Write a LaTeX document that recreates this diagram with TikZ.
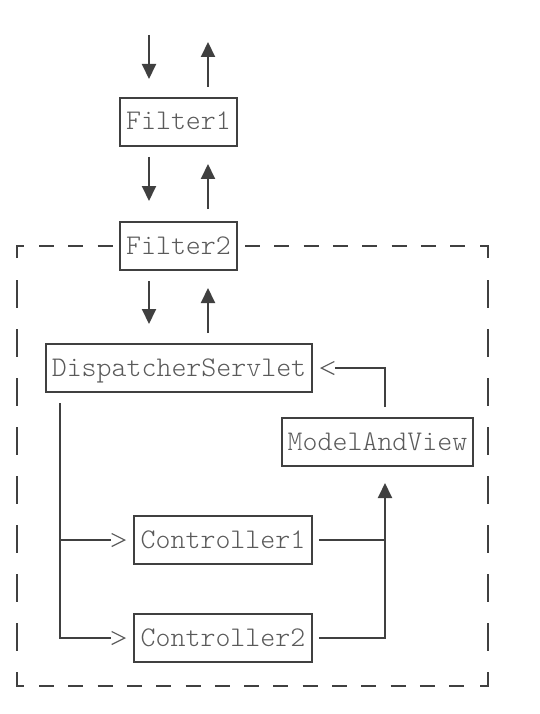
\documentclass[tikz,border=0pt]{standalone}
\usepackage{fontspec}
\setmonofont{Latin Modern Mono Light}
\usetikzlibrary{calc}
\usetikzlibrary{positioning}
\usetikzlibrary{arrows.meta}
\definecolor{linegray}{HTML}{404040}
\definecolor{textgray}{HTML}{5A5A5A}
\tikzstyle{boxnode} = [draw=linegray, line width=2pt, rectangle, minimum height=48pt, inner xsep=2pt, text height=20pt, text depth=4pt, text=textgray, font=\ttfamily\fontsize{28.5}{28.5}\selectfont]
\tikzstyle{link} = [draw=linegray, line width=2pt]
\tikzstyle{fillarrow} = [link, -{Triangle[width=14pt,length=15pt]}]
\tikzstyle{openarrow} = [link, -{. Straight Barb[length=13pt,width=13pt,line width=1.2pt,color=textgray]}]
\tikzstyle{hdash} = [link, dash pattern=on 15pt off 14.3pt]
\tikzstyle{vdash} = [link, dash pattern=on 28pt off 21pt]

\begin{document}
\begin{tikzpicture}[x=1pt, y=-1pt]
  \useasboundingbox (0,0) rectangle (539,714);
  \node[boxnode, minimum width=117pt] (f1) at (178.5,122) {Filter1};
  \node[boxnode, minimum width=117pt, below=74pt of f1] (f2) {Filter2};
  \node[boxnode, minimum width=266pt] (ds) at (179,368) {DispatcherServlet};
  \node[boxnode, minimum width=191pt] (mv) at (377.5,442) {ModelAndView};
  \node[boxnode, minimum width=178pt] (c1) at (223,540) {Controller1};
  \node[boxnode, minimum width=178pt, below=48pt of c1] (c2) {Controller2};

  \coordinate (req) at (149,35);
  \coordinate (resp) at (208,42);
  \coordinate (mvin) at ([xshift=7.5pt]mv.south);
  \coordinate (mvout) at ([xshift=7.5pt]mv.north);
  \coordinate (dsout) at ([xshift=15pt]ds.south west);

  % frame round the container
  \draw[link] (17,258) -- (17,246) -- (24,246);
  \draw[link] (480,246) -- (488,246) -- (488,258);
  \draw[link] (17,672) -- (17,686) -- (24,686);
  \draw[link] (480,686) -- (488,686) -- (488,672);
  \draw[hdash] (39,246) -- (f2.west);
  \draw[hdash] (245,246) -- (466,246);
  \draw[hdash] (39,686) -- (466,686);
  \draw[vdash] (17,280) -- (17,652);
  \draw[vdash] (488,280) -- (488,652);

  \draw[fillarrow, shorten >=18pt] (req) -- (req |- f1.north);
  \draw[fillarrow, shorten <=10pt] (resp |- f1.north) -- (resp);
  \draw[fillarrow, shorten <=10pt, shorten >=20pt] ([xshift=-29.5pt]f1.south) -- ([xshift=-29.5pt]f2.north);
  \draw[fillarrow, shorten <=12pt, shorten >=17pt] ([xshift=29.5pt]f2.north) -- ([xshift=29.5pt]f1.south);
  \draw[fillarrow, shorten <=10pt, shorten >=19pt] ([xshift=-29.5pt]f2.south) -- ([xshift=-29.5pt]f2.south |- ds.north);
  \draw[fillarrow, shorten <=10pt, shorten >=17pt] ([xshift=29.5pt]f2.south |- ds.north) -- ([xshift=29.5pt]f2.south);

  \draw[openarrow, shorten <=10pt, shorten >=7pt] (dsout) |- (c1.west);
  \draw[openarrow, shorten <=10pt, shorten >=7pt] (dsout) |- (c2.west);
  \draw[link, shorten <=6pt] (c1.east) -- (c1.east -| mvin);
  \draw[fillarrow, shorten <=6pt, shorten >=16pt] (c2.east) -| (mvin);
  \draw[openarrow, shorten <=10pt, shorten >=7pt] (mvout) |- (ds.east);
\end{tikzpicture}
\end{document}
